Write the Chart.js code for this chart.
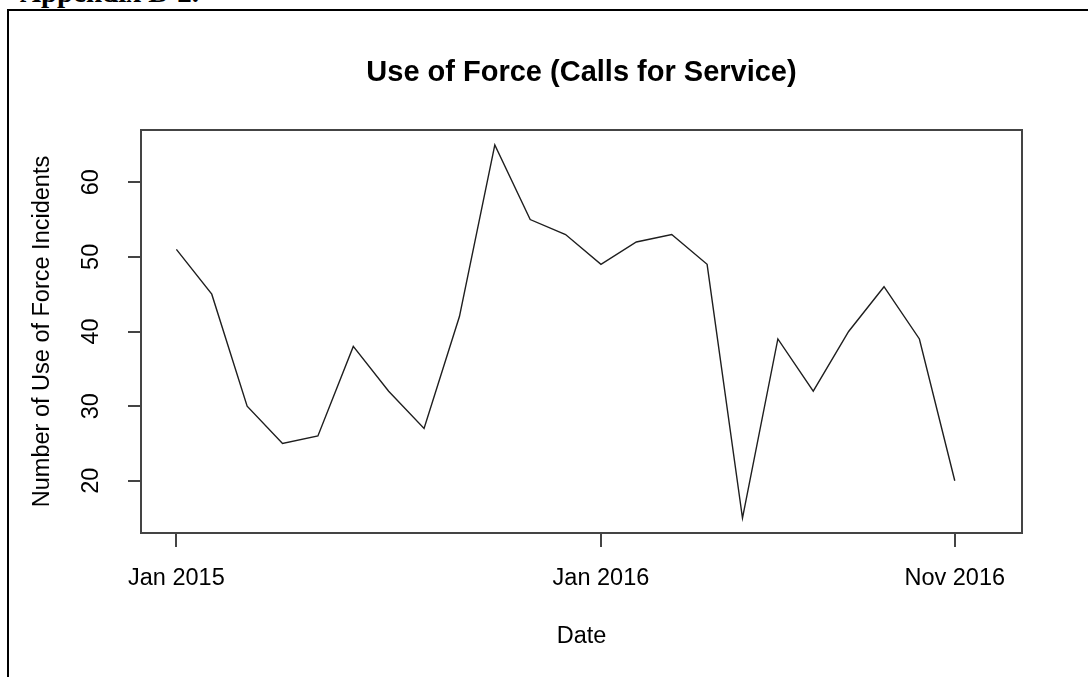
<!DOCTYPE html>
<html>
<head>
<meta charset="utf-8">
<script src="https://cdn.jsdelivr.net/npm/chart.js@4.4.1/dist/chart.umd.min.js"></script>
<style>
  html, body { margin: 0; padding: 0; background: #fff; overflow: hidden; }
  body { width: 1088px; height: 677px; position: relative; }
  #heading { position: absolute; left: 20px; top: -24px; font: bold 29px 'Liberation Serif', serif; color: #000; white-space: nowrap; }
  #frame { position: absolute; left: 7px; top: 9px; width: 1300px; height: 900px; border: 2px solid #000; }
  #chart { position: absolute; left: 0; top: 0; }
</style>
</head>
<body>
<div id="heading">Appendix B-2.</div>
<div id="frame"></div>
<canvas id="chart" width="1088" height="677"></canvas>
<script>
// monthly counts, Jan 2015 .. Nov 2016
const months = [
  'Jan 2015', 'Feb 2015', 'Mar 2015', 'Apr 2015', 'May 2015', 'Jun 2015',
  'Jul 2015', 'Aug 2015', 'Sep 2015', 'Oct 2015', 'Nov 2015', 'Dec 2015',
  'Jan 2016', 'Feb 2016', 'Mar 2016', 'Apr 2016', 'May 2016', 'Jun 2016',
  'Jul 2016', 'Aug 2016', 'Sep 2016', 'Oct 2016', 'Nov 2016',
];
const incidents = [51, 45, 30, 25, 26, 38, 32, 27, 42, 65, 55, 53, 49, 52, 53, 49, 15, 39, 32, 40, 46, 39, 20];
const xTickLabels = ['Jan 2015', 'Jan 2016', 'Nov 2016'];
const yTickValues = [20, 30, 40, 50, 60];

const FONT = "'Liberation Sans', Arial, sans-serif";
const AXIS_GREY = '#444';

// R style box round the plot region
const plotBox = {
  id: 'plotBox',
  afterDatasetsDraw(chart) {
    const { ctx, chartArea: a } = chart;
    ctx.save();
    ctx.strokeStyle = AXIS_GREY;
    ctx.lineWidth = 2;
    ctx.strokeRect(a.left, a.top, a.right - a.left, a.bottom - a.top);
    ctx.restore();
  },
};

new Chart(document.getElementById('chart'), {
  type: 'line',
  data: {
    datasets: [{
      data: incidents.map((v, i) => ({ x: i, y: v })),
      xAxisID: 'x',
      yAxisID: 'y',
      borderColor: '#1e1e1e',
      borderWidth: 1.4,
      pointRadius: 0,
      tension: 0,
      fill: false,
    }],
  },
  options: {
    responsive: false,
    animation: false,
    layout: { padding: { left: 0, right: 66, top: 0, bottom: 0 } },
    plugins: {
      legend: { display: false },
      tooltip: { enabled: false },
    },
    scales: {
      // empty top axis, only carries the main title centred over the plot
      titleAxis: {
        axis: 'x',
        type: 'linear',
        position: 'top',
        display: true,
        grid: { display: false },
        border: { display: false },
        ticks: { display: false },
        afterFit(scale) { scale.height = 130; },
        title: {
          display: true,
          text: 'Use of Force (Calls for Service)',
          color: '#000',
          font: { family: FONT, size: 29, weight: 'bold', lineHeight: 1.2 },
          padding: { top: 55.6, bottom: 0 },
        },
      },
      x: {
        type: 'linear',
        position: 'bottom',
        min: -1,
        max: 23.9,
        border: { display: false },
        grid: { drawOnChartArea: false, drawTicks: true, tickLength: 14, color: AXIS_GREY, lineWidth: 2 },
        afterBuildTicks(scale) {
          scale.ticks = xTickLabels.map((l) => ({ value: months.indexOf(l) }));
        },
        afterFit(scale) { scale.height = 144; },
        ticks: {
          color: '#000',
          padding: 17,
          maxRotation: 0,
          font: { family: FONT, size: 23.5, lineHeight: 1.2 },
          callback: (v) => months[v],
        },
        title: {
          display: true,
          text: 'Date',
          color: '#000',
          font: { family: FONT, size: 23.5, lineHeight: 1.2 },
          padding: { top: 0, bottom: 26 },
        },
      },
      y: {
        min: 13,
        max: 67,
        border: { display: false },
        grid: { drawOnChartArea: false, drawTicks: true, tickLength: 13, color: AXIS_GREY, lineWidth: 2 },
        afterBuildTicks(scale) {
          scale.ticks = yTickValues.map((v) => ({ value: v }));
        },
        afterFit(scale) { scale.width = 141; },
        ticks: {
          color: '#000',
          padding: 23,
          minRotation: 90,
          maxRotation: 90,
          crossAlign: 'center',
          font: { family: FONT, size: 23.5, lineHeight: 1.2 },
        },
        title: {
          display: true,
          text: 'Number of Use of Force Incidents',
          color: '#000',
          font: { family: FONT, size: 23.5, lineHeight: 1.2 },
          padding: { top: 28, bottom: 0 },
        },
      },
    },
  },
  plugins: [plotBox],
});
</script>
</body>
</html>
